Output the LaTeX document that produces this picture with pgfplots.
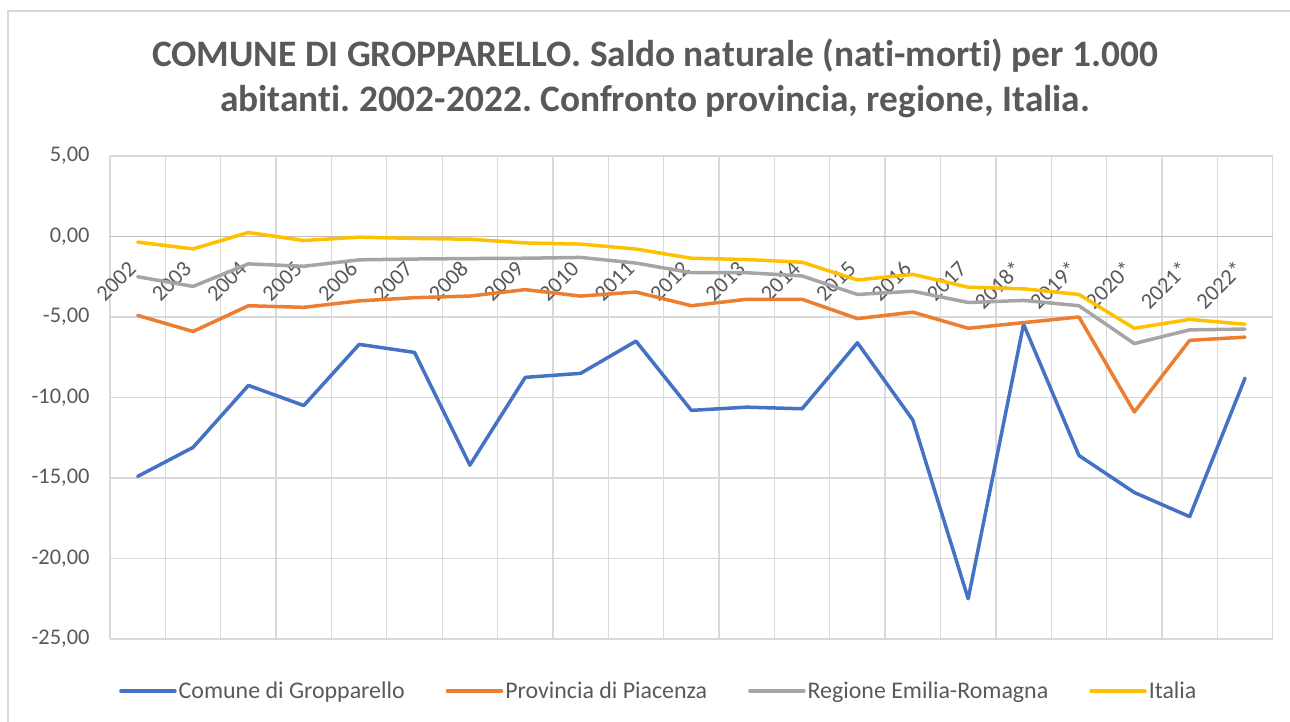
\documentclass[border=0pt]{standalone}
\usepackage{fontspec}
\setmainfont{Carlito}[Ligatures=NoCommon]
\usepackage{pgfplots}
\pgfplotsset{compat=1.18}
\usepackage{pgfplotstable}

\definecolor{cBlue}{HTML}{4472C4}
\definecolor{cOrange}{HTML}{ED7D31}
\definecolor{cGray}{HTML}{A5A5A5}
\definecolor{cYellow}{HTML}{FFC000}
\definecolor{txt}{HTML}{595959}
\definecolor{grid}{HTML}{D9D9D9}
\definecolor{zero}{HTML}{BFBFBF}

% x = 0..20 -> 2002..2022*
\pgfplotstableread{
x comune provincia regione italia
0  -14.90 -4.90 -2.50 -0.35
1  -13.10 -5.90 -3.10 -0.77
2  -9.25  -4.30 -1.70  0.25
3  -10.50 -4.40 -1.85 -0.25
4  -6.70  -4.00 -1.45 -0.04
5  -7.20  -3.80 -1.40 -0.12
6  -14.20 -3.70 -1.37 -0.17
7  -8.75  -3.30 -1.35 -0.40
8  -8.50  -3.70 -1.30 -0.47
9  -6.50  -3.45 -1.65 -0.78
10 -10.80 -4.30 -2.25 -1.35
11 -10.60 -3.90 -2.25 -1.43
12 -10.70 -3.90 -2.45 -1.60
13 -6.60  -5.10 -3.60 -2.70
14 -11.40 -4.70 -3.40 -2.35
15 -22.50 -5.70 -4.10 -3.15
16 -5.45  -5.35 -3.97 -3.25
17 -13.60 -5.00 -4.30 -3.60
18 -15.90 -10.90 -6.65 -5.70
19 -17.40 -6.45 -5.80 -5.15
20 -8.80  -6.25 -5.75 -5.45
}\saldo

\begin{document}
\frenchspacing
\begin{tikzpicture}
\path[use as bounding box] (0,0) rectangle (1290bp,722bp);
\draw[grid, line width=1.3bp] (8bp,-20bp) rectangle (1310bp,711bp);
\node[text=txt, font=\fontsize{37.5}{45}\selectfont\bfseries, align=center, anchor=base]
  at (655bp,610.3bp) {COMUNE DI GROPPARELLO. Saldo naturale (nati-morti) per 1.000\\abitanti. 2002-2022. Confronto provincia, regione, Italia.};
\begin{axis}[
  at={(110bp,83bp)}, anchor=south west,
  scale only axis, width=1162.7bp, height=483bp,
  xmin=-0.5, xmax=20.5, ymin=-25, ymax=5,
  axis x line=middle, axis y line=left,
  axis line style={-},
  x axis line style={draw=zero, line width=1.3bp},
  y axis line style={draw=none},
  xtick={0,...,20},
  xticklabels={2002,2003,2004,2005,2006,2007,2008,2009,2010,2011,2012,2013,2014,2015,2016,2017,2018*,2019*,2020*,2021*,2022*},
  minor xtick={-0.5,0.5,...,20.5},
  xminorgrids=true,
  ytick={-25,-20,...,5},
  ymajorgrids=true,
  grid style={draw=grid, line width=1.3bp},
  minor grid style={draw=grid, line width=1.3bp},
  major tick length=0pt, minor tick length=0pt,
  tick label style={text=txt, font=\fontsize{22.5}{26}\selectfont},
  xticklabel style={yshift=-26bp, xshift=-3bp, rotate=45, anchor=east},
  yticklabel style={xshift=-17bp},
  /pgf/number format/.cd, fixed, fixed zerofill, precision=2, use comma, assume math mode=true,
  /pgfplots/.cd,
  clip=false,
  legend style={at={(0.472,-0.108)}, anchor=center, draw=none, fill=none,
    legend columns=4, font=\fontsize{24}{28}\selectfont, text=txt,
    /tikz/every even column/.append style={column sep=39bp}},
  legend cell align=left,
  legend image code/.code={\draw[#1, line width=3.5bp] (0bp,0bp) -- (54bp,0bp);},
  every axis plot/.append style={line width=3.5bp, line join=round, line cap=round},
]
\addplot[cBlue] table[x=x, y=comune] {\saldo};
\addlegendentry{Comune di Gropparello}
\addplot[cOrange] table[x=x, y=provincia] {\saldo};
\addlegendentry{Provincia di Piacenza}
\addplot[cGray] table[x=x, y=regione] {\saldo};
\addlegendentry{Regione Emilia-Romagna}
\addplot[cYellow] table[x=x, y=italia] {\saldo};
\addlegendentry{Italia}
\end{axis}
\end{tikzpicture}
\end{document}
